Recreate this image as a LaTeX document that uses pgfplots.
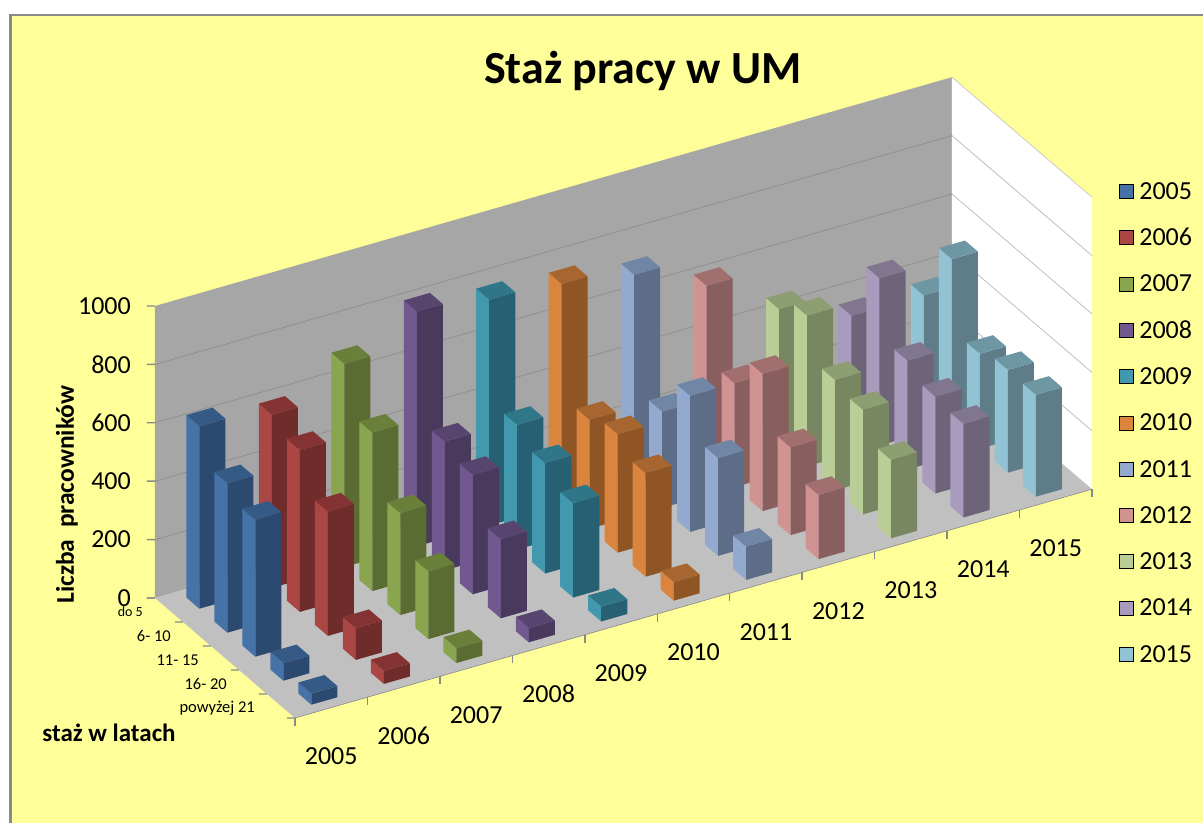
\documentclass[border=0pt]{standalone}
\usepackage{pgfplots}
\pgfplotsset{compat=1.18}
\usepackage{fontspec}
\setmainfont{Carlito}
\definecolor{bgy}{HTML}{FFFF99}
\definecolor{frm}{HTML}{898989}
\definecolor{wall}{HTML}{A6A6A6}
\definecolor{floorc}{HTML}{C0C0C0}
\definecolor{gridb}{HTML}{8F8F8F}
\definecolor{gridw}{HTML}{BFBFBF}
% left (light), right (dark), top faces
\definecolor{L0}{HTML}{4572A7}\definecolor{R0}{HTML}{2C4A70}\definecolor{T0}{HTML}{355A85}
\definecolor{L1}{HTML}{AA4643}\definecolor{R1}{HTML}{6F2C2A}\definecolor{T1}{HTML}{853332}
\definecolor{L2}{HTML}{89A54E}\definecolor{R2}{HTML}{5A6C32}\definecolor{T2}{HTML}{6A803A}
\definecolor{L3}{HTML}{71588F}\definecolor{R3}{HTML}{49395D}\definecolor{T3}{HTML}{57446F}
\definecolor{L4}{HTML}{4198AF}\definecolor{R4}{HTML}{286073}\definecolor{T4}{HTML}{2F7688}
\definecolor{L5}{HTML}{DB843D}\definecolor{R5}{HTML}{8F5525}\definecolor{T5}{HTML}{A7652F}
\definecolor{L6}{HTML}{93A9CF}\definecolor{R6}{HTML}{5D6C87}\definecolor{T6}{HTML}{7086A5}
\definecolor{L7}{HTML}{D19392}\definecolor{R7}{HTML}{885F5E}\definecolor{T7}{HTML}{A06F6E}
\definecolor{L8}{HTML}{B9CD96}\definecolor{R8}{HTML}{788661}\definecolor{T8}{HTML}{8E9E73}
\definecolor{L9}{HTML}{A99BBD}\definecolor{R9}{HTML}{6D6479}\definecolor{T9}{HTML}{81768F}
\definecolor{L10}{HTML}{92C3D4}\definecolor{R10}{HTML}{5E7D89}\definecolor{T10}{HTML}{6E97A4}
% one bar: #1 year index, #2 depth position (4.5 = back), #3 value
\newcommand\onebar[3]{%
  \pgfmathsetmacro\xa{#1+0.33}\pgfmathsetmacro\xb{#1+0.69}%
  \pgfmathsetmacro\ya{#2-0.232}\pgfmathsetmacro\yb{#2+0.232}%
  \addplot3[forget plot,draw=none,mark=none,fill=L#1] coordinates {(\xa,\ya,0) (\xa,\yb,0) (\xa,\yb,#3) (\xa,\ya,#3) (\xa,\ya,0)};
  \addplot3[forget plot,draw=none,mark=none,fill=R#1] coordinates {(\xa,\ya,0) (\xb,\ya,0) (\xb,\ya,#3) (\xa,\ya,#3) (\xa,\ya,0)};
  \addplot3[forget plot,draw=none,mark=none,fill=T#1] coordinates {(\xa,\ya,#3) (\xb,\ya,#3) (\xb,\yb,#3) (\xa,\yb,#3) (\xa,\ya,#3)};
}
% one year: index, then do 5, 6-10, 11-15, 16-20, powyzej 21
\newcommand\oneyear[6]{\onebar{#1}{4.5}{#2}\onebar{#1}{3.5}{#3}\onebar{#1}{2.5}{#4}\onebar{#1}{1.5}{#5}\onebar{#1}{0.5}{#6}}
\begin{document}
\begin{tikzpicture}[x=1pt,y=1pt]
\path[use as bounding box] (0,0) rectangle (1203,823);
\fill[white] (0,0) rectangle (1203,823);
\fill[frm] (9,0) rectangle (1203,809);
\fill[bgy] (12,0) rectangle (1203,807);
\begin{axis}[
  at={(295pt,105pt)},anchor=origin,
  disabledatascaling,
  x={(72.45pt,20.8pt)},y={(-28pt,24pt)},z={(0pt,0.292pt)},
  xmin=0,xmax=11,ymin=0,ymax=5,zmin=0,zmax=1000,
  clip=false,
  axis line style={draw=none},
  xtick={0.5,1.5,2.5,3.5,4.5,5.5,6.5,7.5,8.5,9.5,10.5},
  xticklabels={2005,2006,2007,2008,2009,2010,2011,2012,2013,2014,2015},
  ytick={0.5,1.5,2.5,3.5,4.5},
  yticklabels={powyżej 21,16- 20,11- 15,6- 10,{\fontsize{14}{14}\selectfont do 5}},
  ztick={0,200,400,600,800,1000},
  xtick pos=left,ytick pos=left,ztick pos=left,
  tick align=outside,
  major tick length=0pt,
  tick style={draw=none},
  /pgf/number format/assume math mode=true,
  /pgf/number format/1000 sep={},
  tick label style={font=\fontsize{26}{26}\selectfont,inner sep=0pt},
  xticklabel style={anchor=center,yshift=-49pt,xshift=0pt},
  yticklabel style={font=\fontsize{16.5}{16.5}\selectfont,anchor=east,xshift=-26pt,yshift=-2pt},
  zticklabel style={anchor=east,xshift=-24pt},
  title={Staż pracy w UM},
  every axis title/.style={at={(axis description cs:0.5208,1.0094)},anchor=center,font=\fontsize{46}{46}\selectfont\bfseries},
  ylabel={staż w latach},
  every axis y label/.style={at={(axis description cs:-0.0491,-0.0234)},anchor=center,font=\fontsize{25}{25}\selectfont\bfseries},
  zlabel={Liczba\ \ pracowników},
  every axis z label/.style={at={(axis description cs:-0.0939,0.3484)},anchor=center,rotate=90,font=\fontsize{25.5}{25.5}\selectfont\bfseries},
  legend style={at={(axis description cs:1.0288,0.8345)},anchor=north west,draw=none,fill=none,inner sep=0pt,outer sep=0pt,
    row sep=30.3pt,column sep=6pt,font=\fontsize{26}{26}\selectfont,
    nodes={inner sep=0pt,text height=16pt,text depth=0pt}},
  legend cell align=left,
  legend image code/.code={\fill[#1] (0pt,-7pt) rectangle (14pt,7pt);},
]
% walls and floor
\addplot3[forget plot,draw=none,mark=none,fill=wall] coordinates {(0,5,0) (11,5,0) (11,5,1000) (0,5,1000) (0,5,0)};
\addplot3[forget plot,draw=none,mark=none,fill=white] coordinates {(11,5,0) (11,0,0) (11,0,1000) (11,5,1000) (11,5,0)};
\addplot3[forget plot,draw=none,mark=none,fill=floorc] coordinates {(0,0,0) (11,0,0) (11,5,0) (0,5,0) (0,0,0)};
\addplot3[forget plot,gridw,line width=0.6pt,mark=none] coordinates {(11,5,1000) (11,0,1000)};
\addplot3[forget plot,frm,line width=0.6pt,mark=none] coordinates {(0,0,0) (11,0,0)};
\addplot3[forget plot,gridb,line width=0.8pt,mark=none] coordinates {(0,5,200) (11,5,200)};
\addplot3[forget plot,gridb,line width=0.8pt,mark=none] coordinates {(0,5,400) (11,5,400)};
\addplot3[forget plot,gridb,line width=0.8pt,mark=none] coordinates {(0,5,600) (11,5,600)};
\addplot3[forget plot,gridb,line width=0.8pt,mark=none] coordinates {(0,5,800) (11,5,800)};
\addplot3[forget plot,gridw,line width=0.8pt,mark=none] coordinates {(11,5,200) (11,0,200)};
\addplot3[forget plot,gridw,line width=0.8pt,mark=none] coordinates {(11,5,400) (11,0,400)};
\addplot3[forget plot,gridw,line width=0.8pt,mark=none] coordinates {(11,5,600) (11,0,600)};
\addplot3[forget plot,gridw,line width=0.8pt,mark=none] coordinates {(11,5,800) (11,0,800)};
% tick marks: vertical on the year axis, horizontal on the other two
\pgfplotsinvokeforeach{0,1,2,3,4,5,6,7,8,9,10,11}{
  \addplot3[forget plot,frm,line width=1.4pt,mark=none] coordinates {(#1,0,0) (#1,0,-27)};
}
\pgfplotsinvokeforeach{0,1,2,3,4,5}{
  \pgfmathsetmacro\yt{#1+0.0717}
  \addplot3[forget plot,frm,line width=1.4pt,mark=none] coordinates {(0,#1,0) (-0.0827,\yt,0)};
}
\pgfplotsinvokeforeach{0,200,400,600,800,1000}{
  \addplot3[forget plot,frm,line width=1.4pt,mark=none] coordinates {(0,5,#1) (-0.0827,5.0717,#1)};
}
% bars, far to near
\oneyear{10}{360}{567}{325}{352}{349}
\oneyear{9}{362}{573}{373}{332}{321}
\oneyear{8}{456}{516}{378}{358}{269}
\oneyear{7}{607}{356}{470}{301}{220}
\oneyear{6}{716}{330}{466}{335}{114}
\oneyear{5}{756}{373}{406}{355}{64}
\oneyear{4}{773}{427}{378}{323}{51}
\oneyear{3}{804}{441}{409}{271}{49}
\oneyear{2}{696}{543}{349}{232}{51}
\oneyear{1}{593}{555}{426}{109}{45}
\oneyear{0}{625}{512}{469}{60}{38}
% legend
\addlegendimage{fill=L0}\addlegendentry{2005}
\addlegendimage{fill=L1}\addlegendentry{2006}
\addlegendimage{fill=L2}\addlegendentry{2007}
\addlegendimage{fill=L3}\addlegendentry{2008}
\addlegendimage{fill=L4}\addlegendentry{2009}
\addlegendimage{fill=L5}\addlegendentry{2010}
\addlegendimage{fill=L6}\addlegendentry{2011}
\addlegendimage{fill=L7}\addlegendentry{2012}
\addlegendimage{fill=L8}\addlegendentry{2013}
\addlegendimage{fill=L9}\addlegendentry{2014}
\addlegendimage{fill=L10}\addlegendentry{2015}
\end{axis}
\end{tikzpicture}
\end{document}
